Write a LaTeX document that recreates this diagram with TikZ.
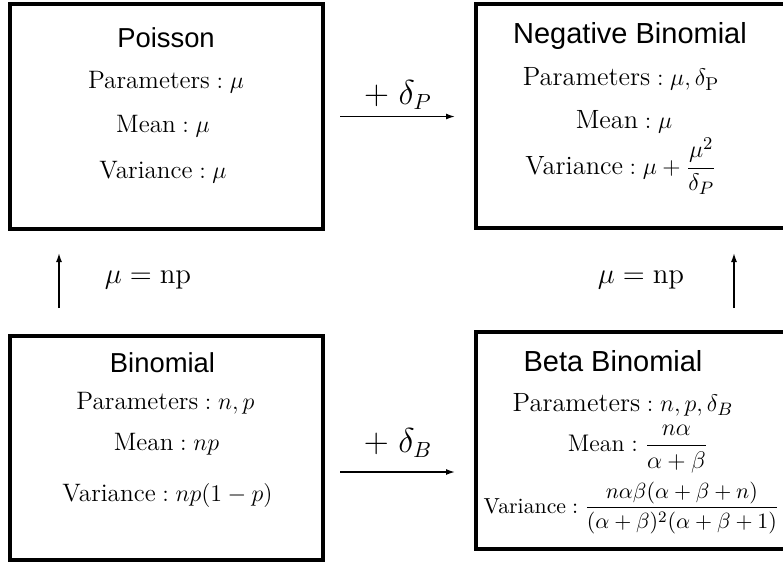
\documentclass[tikz,border=0pt]{standalone}
\usepackage{amsmath}
\usepackage{fontspec}
\usepackage{tikz}
\usetikzlibrary{arrows.meta}

\newfontfamily\titlefont{Liberation Sans}

\begin{document}
\begin{tikzpicture}[x=0.5pt, y=-0.5pt,
    distbox/.style={draw, line width=2pt, outer sep=0pt, inner sep=0pt},
    distname/.style={font=\titlefont\fontsize{13.7}{16}\selectfont},
    bigname/.style={font=\titlefont\fontsize{14.5}{17}\selectfont},
    info/.style={font=\fontsize{12.6}{15}\selectfont, inner sep=0pt},
    biginfo/.style={font=\fontsize{13.2}{16}\selectfont, inner sep=0pt},
    link/.style={line width=0.75pt, -{Latex[length=4.5pt,width=3pt]}},
    linklabel/.style={font=\fontsize{16}{19}\selectfont, inner sep=0pt}]

    \useasboundingbox (0,0) rectangle (783,564);
    \clip (0,0) rectangle (783,564);

    % Define the four boxes with coordinates
    \node[distbox, minimum width=156.5pt, minimum height=112.5pt] (poisson) at (166.5,116.5) {};
    \node[distbox, minimum width=154.5pt, minimum height=112pt] (negbin) at (630.5,116) {};
    \node[distbox, minimum width=156.5pt, minimum height=112pt] (binom) at (166.5,448) {};
    \node[distbox, minimum width=154.5pt, minimum height=108.5pt] (betabin) at (630.5,440.5) {};

    % Poisson
    \node[distname] (poissonname) at (166,38) {Poisson};
    \node[info] (poissonpar) at (166,82) {$\text{Parameters}:\mu$};
    \node[info] (poissonmean) at (163,126) {$\text{Mean}:\mu$};
    \node[info] (poissonvar) at (163,172.5) {$\text{Variance}:\mu$};

    % Negative Binomial
    \node[bigname] (negbinname) at (630,36) {Negative Binomial};
    \node[biginfo] (negbinpar) at (621,79) {$\text{Parameters}:\mu,\delta_{\mathrm{P}}$};
    \node[biginfo] (negbinmean) at (624,122) {$\text{Mean}:\mu$};
    \node[biginfo] (negbinvar) at (621,166) {$\displaystyle\text{Variance}:\mu+\frac{\mu^2}{\delta_P}$};

    % Binomial
    \node[distname] (binomname) at (162.5,363) {Binomial};
    \node[info] (binompar) at (165.5,403.5) {$\text{Parameters}:n,p$};
    \node[info] (binommean) at (166.5,444) {$\text{Mean}:np$};
    \node[info] (binomvar) at (167.5,495) {$\text{Variance}:np(1-p)$};

    % Beta Binomial
    \node[bigname] (betabinname) at (613,361) {Beta Binomial};
    \node[biginfo] (betabinpar) at (623,405) {$\text{Parameters}:n,p,\delta_B$};
    \node[biginfo, font=\fontsize{12}{14}\selectfont] (betabinmean) at (638,449) {$\displaystyle\text{Mean}:\frac{n\alpha}{\alpha+\beta}$};
    \node[biginfo, font=\fontsize{10.9}{13}\selectfont] (betabinvar) at (631.5,508) {$\displaystyle\text{Variance}:\frac{n\alpha\beta(\alpha+\beta+n)}{(\alpha+\beta)^2(\alpha+\beta+1)}$};

    % Arrows between the boxes
    \draw[link, shorten <=8.5pt, shorten >=10.5pt] (poisson.east) -- (poisson.east -| negbin.west);
    \draw[link, shorten <=8.5pt, shorten >=10.5pt] ([yshift=-12pt]binom.east) -- ([yshift=-12pt]binom.east -| betabin.west);
    \draw[link, shorten <=14pt, shorten >=12pt] ([xshift=-53.75pt]binom.north) -- ([xshift=-53.75pt]binom.north |- poisson.south);
    \draw[link, shorten <=12pt, shorten >=12.5pt] ([xshift=51.75pt]betabin.north) -- ([xshift=51.75pt]betabin.north |- negbin.south);

    % Arrow labels
    \node[linklabel] (addp) at (398,95) {$+\ \delta_P$};
    \node[linklabel] (addb) at (398,443) {$+\ \delta_B$};
    \node[linklabel, font=\fontsize{14.4}{17}\selectfont] (leftnp) at (148,280) {$\mu=\mathrm{np}$};
    \node[linklabel, font=\fontsize{14.4}{17}\selectfont] (rightnp) at (641,280) {$\mu=\mathrm{np}$};

\end{tikzpicture}
\end{document}
